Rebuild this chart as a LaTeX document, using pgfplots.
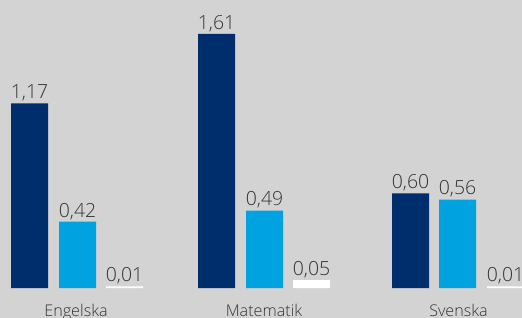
\documentclass[border=0pt]{standalone}
\usepackage{pgfplots}
\pgfplotsset{compat=1.18}
\usepackage{fontspec}
\setmainfont{Open Sans}[UprightFont=* Light]
\definecolor{bg}{HTML}{D3D3D3}
\definecolor{navy}{HTML}{002D6B}
\definecolor{sky}{HTML}{00A3E0}
\definecolor{txt}{HTML}{333333}
\begin{document}
\begin{tikzpicture}
\fill[bg] (0,-30bp) rectangle (522bp,288bp);
\useasboundingbox (0,-30bp) rectangle (522bp,288bp);
\begin{axis}[
  scale only axis, width=522bp, height=288bp,
  xmin=0, xmax=522, ymin=0, ymax=1.825,
  axis x line*=bottom, hide y axis,
  x axis line style={draw=none},
  ybar, bar width=37, bar shift=0pt,
  xtick={76,264,458.5},
  xticklabels={Engelska,Matematik,Svenska},
  xticklabel style={font=\fontsize{16.2}{18}\selectfont, text=txt, anchor=base, yshift=-24bp},
  xtick style={draw=none},
  nodes near coords,
  every node near coord/.append style={font=\fontsize{19.5}{22}\selectfont, text=txt, inner sep=2bp, /pgf/number format/.cd, use comma, fixed, fixed zerofill, precision=2, assume math mode=true},
]
\addplot[fill=navy, draw=none] coordinates {(29.5,1.17) (216.5,1.61) (410.5,0.60)};
\addplot[fill=sky, draw=none] coordinates {(77.5,0.42) (264.5,0.49) (457.5,0.56)};
\addplot[fill=white, draw=none] coordinates {(124.5,0.01) (311.5,0.05) (505.5,0.01)};
\end{axis}
\end{tikzpicture}
\end{document}
